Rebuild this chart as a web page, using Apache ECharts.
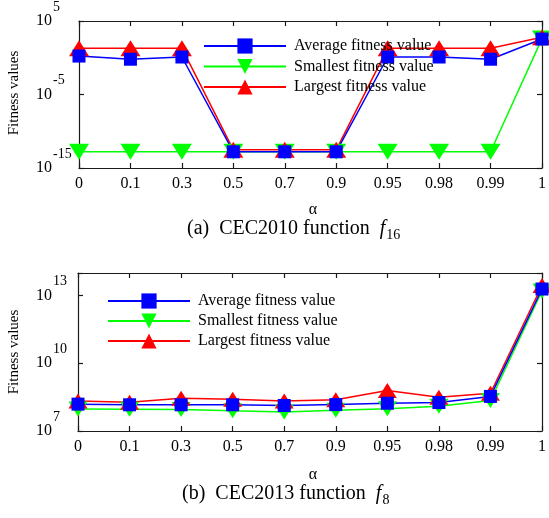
<!DOCTYPE html>
<html>
<head>
<meta charset="utf-8">
<script src="https://cdn.jsdelivr.net/npm/echarts@6/dist/echarts.min.js"></script>
<style>html,body{margin:0;padding:0;background:#fff}#c{width:549px;height:518px}</style>
</head>
<body>
<div id="c"></div>
<script>
// categories (alpha)
const alphaCats = ['0', '0.1', '0.3', '0.5', '0.7', '0.9', '0.95', '0.98', '0.99', '1'];

// (a) CEC2010 f16 fitness values
const a_avg = [1.7, 0.63, 1.26, 1.6e-13, 1.6e-13, 1.6e-13, 1.26, 1.26, 0.63, 3.5e2];
const a_min = [1.6e-13, 1.6e-13, 1.6e-13, 1.6e-13, 1.6e-13, 1.6e-13, 1.6e-13, 1.6e-13, 1.6e-13, 4e2];
const a_max = [20, 20, 20, 3e-13, 3e-13, 3e-13, 20, 20, 20, 6e2];

// (b) CEC2013 f8 fitness values
const b_avg = [1.55e8, 1.45e8, 1.45e8, 1.45e8, 1.35e8, 1.48e8, 1.7e8, 1.82e8, 3.4e8, 1.95e13];
const b_min = [9.5e7, 9.1e7, 8.9e7, 7.9e7, 6.9e7, 8.3e7, 9.8e7, 1.26e8, 2.24e8, 1.6e13];
const b_max = [2.14e8, 1.86e8, 2.8e8, 2.57e8, 2.14e8, 2.4e8, 6.2e8, 3.16e8, 4.7e8, 2.8e13];

// tick exponents
const a_ticks = [-15, -5, 5];
const b_ticks = [7, 10, 13];

const names = ['Average fitness value', 'Smallest fitness value', 'Largest fitness value'];

const FONT = 'Liberation Serif';
const DOWN_TRI = 'path://M0,0 L20,0 L10,16 Z';

const chart = echarts.init(document.getElementById('c'), null, {renderer: 'canvas'});

function supLabel(ticks) {
  return function (v) {
    if (ticks.indexOf(Math.round(v * 1000) / 1000) < 0) return '';
    return '{b|10}{s|' + Math.round(v) + '}';
  };
}
const supRich = {
  b: {fontFamily: FONT, fontSize: 16, color: '#000'},
  s: {fontFamily: FONT, fontSize: 14, color: '#000', padding: [0, 0, 28, 1]}
};

function xAxes(gridIndex) {
  const base = {
    type: 'category', data: alphaCats, boundaryGap: false, gridIndex: gridIndex,
    axisLine: {onZero: false, lineStyle: {color: '#1a1a1a', width: 1.2}},
    axisTick: {inside: true, length: 5, lineStyle: {color: '#1a1a1a', width: 1.2}},
    splitLine: {show: false}
  };
  return [
    Object.assign({}, base, {position: 'bottom',
      axisLabel: {color: '#000', fontFamily: FONT, fontSize: 16, margin: 8, interval: 0}}),
    Object.assign({}, base, {position: 'top', axisLabel: {show: false}})
  ];
}
function yAxes(gridIndex, min, max, interval, ticks, margin) {
  const base = {
    type: 'value', gridIndex: gridIndex, min: min, max: max, interval: interval,
    axisLine: {show: true, onZero: false, lineStyle: {color: '#1a1a1a', width: 1.2}},
    axisTick: {show: true, inside: true, length: 5, lineStyle: {color: '#1a1a1a', width: 1.2}},
    splitLine: {show: false}
  };
  return [
    Object.assign({}, base, {position: 'left',
      axisLabel: {align: 'left', margin: margin, formatter: supLabel(ticks), rich: supRich}}),
    Object.assign({}, base, {position: 'right', axisLabel: {show: false}})
  ];
}

function lineSeries(name, vals, xi, yi, color, symbol, size) {
  return {
    name: name, type: 'line', xAxisIndex: xi, yAxisIndex: yi,
    data: vals.map(v => Math.log10(v)),
    symbol: symbol, symbolSize: size, showSymbol: true,
    lineStyle: {color: color, width: 1.5},
    itemStyle: {color: color},
    emphasis: {disabled: true},
    animation: false
  };
}

function legend(left, top, gap) {
  return {
    data: names, left: left, top: top, orient: 'vertical',
    itemWidth: 82, itemHeight: 19, itemGap: gap, padding: 0,
    selectedMode: false,
    textStyle: {fontFamily: FONT, fontSize: 16, color: '#000', padding: [0, 0, 0, 3]}
  };
}

const option = {
  animation: false,
  backgroundColor: '#fff',
  grid: [
    {left: 79, top: 19, width: 468, height: 149, containLabel: false},
    {left: 78, top: 273, width: 469, height: 158, containLabel: false}
  ],
  xAxis: xAxes(0).concat(xAxes(1)),
  yAxis: yAxes(0, -15, 5, 10, a_ticks, 43).concat(yAxes(1, 7, 14, 3, b_ticks, 42)),
  legend: [legend(203, 38, 4.5), legend(107, 293, 4)],
  series: [
    lineSeries(names[1], a_min, 0, 0, '#00ff00', DOWN_TRI, [20, 16]),
    lineSeries(names[2], a_max, 0, 0, '#ff0000', 'triangle', [20, 16]),
    lineSeries(names[0], a_avg, 0, 0, '#0000ff', 'rect', [13, 13]),
    lineSeries(names[1], b_min, 2, 2, '#00ff00', DOWN_TRI, [19, 15]),
    lineSeries(names[2], b_max, 2, 2, '#ff0000', 'triangle', [19, 15]),
    lineSeries(names[0], b_avg, 2, 2, '#0000ff', 'rect', [13, 13])
  ],
  graphic: [
    {type: 'text', x: 313, y: 210, style: {text: 'α', font: '16px "Liberation Serif"', fill: '#000', textAlign: 'center', textVerticalAlign: 'middle'}},
    {type: 'text', x: 313, y: 475, style: {text: 'α', font: '16px "Liberation Serif"', fill: '#000', textAlign: 'center', textVerticalAlign: 'middle'}},
    {type: 'text', x: 14, y: 93, rotation: Math.PI / 2, style: {text: 'Fitness values', font: '15px "Liberation Serif"', fill: '#000', textAlign: 'center', textVerticalAlign: 'middle'}},
    {type: 'text', x: 14, y: 352, rotation: Math.PI / 2, style: {text: 'Fitness values', font: '15px "Liberation Serif"', fill: '#000', textAlign: 'center', textVerticalAlign: 'middle'}},
    {type: 'text', x: 187, y: 229, style: {
      text: '{n|(a)  CEC2010 function  }{i|f}{s|16}', textAlign: 'left', textVerticalAlign: 'middle',
      rich: {
        n: {fontFamily: FONT, fontSize: 20, fill: '#000'},
        i: {fontFamily: FONT, fontSize: 20, fontStyle: 'italic', fill: '#000'},
        s: {fontFamily: FONT, fontSize: 14, fill: '#000', padding: [12, 0, 0, 1]}
      }}},
    {type: 'text', x: 182, y: 494, style: {
      text: '{n|(b)  CEC2013 function  }{i|f}{s|8}', textAlign: 'left', textVerticalAlign: 'middle',
      rich: {
        n: {fontFamily: FONT, fontSize: 20, fill: '#000'},
        i: {fontFamily: FONT, fontSize: 20, fontStyle: 'italic', fill: '#000'},
        s: {fontFamily: FONT, fontSize: 14, fill: '#000', padding: [12, 0, 0, 1]}
      }}}
  ]
};
chart.setOption(option);
</script>
</body>
</html>
